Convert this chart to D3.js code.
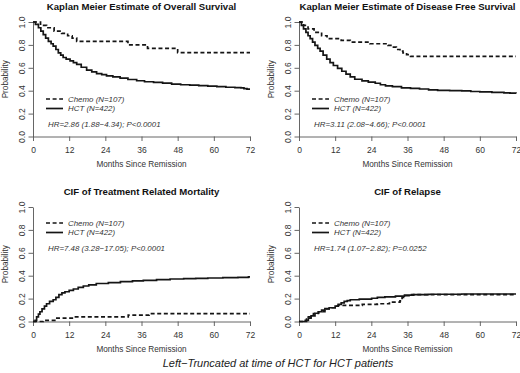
<!DOCTYPE html>
<html>
<head>
<meta charset="utf-8">
<script src="https://cdn.jsdelivr.net/npm/d3@7/dist/d3.min.js"></script>
<style>
  body { margin: 0; background: #fff; }
  text { font-family: "Liberation Sans", Arial, sans-serif; }
</style>
</head>
<body>
<div id="wrapper"></div>
<script>
// ---- data ----
const monthTicks = [0, 12, 24, 36, 48, 60, 72];
const probTicks = [0, 0.2, 0.4, 0.6, 0.8, 1.0];
const groupLabels = ["Chemo (N=107)", "HCT (N=422)"];
const panelTitles = [
  "Kaplan Meier Estimate of Overall Survival",
  "Kaplan Meier Estimate of Disease Free Survival",
  "CIF of Treatment Related Mortality",
  "CIF of Relapse",
];
const hazardTexts = [
  "HR=2.86 (1.88\u22124.34); P<0.0001",
  "HR=3.11 (2.08\u22124.66); P<0.0001",
  "HR=7.48 (3.28\u221217.05); P<0.0001",
  "HR=1.74 (1.07\u22122.82); P=0.0252",
];
const caption = "Left\u2212Truncated at time of HCT for HCT patients";

// [month, probability]
const osChemo = [[0,1],[2.5,0.97],[4.5,0.95],[7,0.92],[9.5,0.90],[11.5,0.88],[13,0.86],[14.5,0.83],
  [31.5,0.80],[38,0.77],[48,0.733],[72,0.733]];
const osHct = [[0,1],[0.8,0.98],[1.8,0.95],[2.6,0.92],[3.4,0.89],[4.2,0.86],[5.1,0.83],[6,0.81],
  [6.7,0.79],[7.6,0.76],[8.4,0.73],[9.2,0.71],[10,0.69],[11,0.675],[12.3,0.66],[13.4,0.645],
  [14.5,0.63],[16,0.605],[17.8,0.58],[19.5,0.565],[21.1,0.55],[22.8,0.54],[24.4,0.53],[26.5,0.52],
  [28.9,0.51],[31.5,0.498],[34.4,0.487],[37,0.478],[40,0.472],[43,0.466],[46,0.458],[49,0.452],
  [52,0.448],[55,0.445],[58,0.44],[61,0.435],[64,0.43],[67,0.427],[69,0.425],[70,0.418],[71,0.413],[72,0.413]];

const dfsChemo = [[0,1],[1.5,0.97],[3,0.94],[5,0.91],[7.5,0.88],[9.3,0.855],[14,0.84],[17,0.825],
  [23.5,0.81],[29.5,0.795],[31,0.78],[32.3,0.76],[33.5,0.745],[34.5,0.73],[35.7,0.715],[37,0.70],[72,0.70]];
const dfsHct = [[0,1],[0.8,0.97],[1.5,0.94],[2.3,0.91],[3,0.88],[3.7,0.855],[4.5,0.825],[5.3,0.795],
  [6.2,0.77],[7,0.745],[8,0.71],[9.2,0.675],[10.3,0.645],[11.4,0.62],[12.8,0.595],[14.2,0.57],
  [15.6,0.545],[17,0.52],[18.5,0.5],[20.9,0.485],[23,0.475],[25.3,0.465],[27,0.452],[28.7,0.442],
  [31,0.435],[34,0.425],[37,0.42],[40,0.415],[43,0.408],[46,0.403],[50,0.4],[54,0.398],[57,0.393],
  [60,0.39],[64,0.386],[68,0.381],[70,0.378],[72,0.375]];

const trmChemo = [[0,0],[3.4,0.01],[7.9,0.03],[13.4,0.04],[31.6,0.055],[38.5,0.068],[72,0.068]];
const trmHct = [[0,0],[0.7,0.01],[1.2,0.04],[1.8,0.065],[2.3,0.085],[3,0.11],[3.8,0.135],[4.5,0.155],
  [5.5,0.175],[6.7,0.19],[7.6,0.21],[8.6,0.235],[9.6,0.25],[10.6,0.26],[12,0.272],[13.4,0.284],
  [15,0.298],[16.7,0.31],[18.5,0.32],[21,0.332],[25,0.34],[29,0.348],[33,0.355],[36.6,0.36],
  [41,0.366],[45.5,0.371],[50,0.374],[54,0.377],[58,0.38],[63,0.383],[68,0.386],[71.5,0.39],[72,0.39]];

const relChemo = [[0,0],[1.4,0.01],[2.5,0.02],[3.1,0.04],[4,0.055],[4.8,0.07],[6.4,0.085],[8.6,0.11],
  [10.5,0.12],[12,0.135],[13,0.14],[21,0.15],[26,0.155],[30,0.17],[33.5,0.18],[34.2,0.21],
  [35.2,0.225],[36.5,0.235],[72,0.235]];
const relHct = [[0,0],[2,0],[2.5,0.01],[3.1,0.03],[4,0.05],[5.3,0.072],[6.5,0.085],[7.5,0.1],
  [8.6,0.113],[10,0.12],[12,0.135],[13,0.15],[14,0.163],[15,0.175],[16,0.183],[17,0.19],[20,0.195],
  [24.1,0.203],[26,0.21],[28.5,0.215],[32,0.222],[35,0.23],[38,0.235],[43,0.238],[54,0.24],[72,0.24]];

// ---- layout ----
const width = 520, height = 373;
const plotW = 217, plotH = 114.5;
const panels = [
  { left: 33,  top: 22,  chemo: osChemo,  hct: osHct,  legendTop: 77 },
  { left: 299, top: 22,  chemo: dfsChemo, hct: dfsHct, legendTop: 77 },
  { left: 33,  top: 207, chemo: trmChemo, hct: trmHct, legendTop: 16 },
  { left: 299, top: 207, chemo: relChemo, hct: relHct, legendTop: 16 },
];

const svg = d3.select("#wrapper")
  .append("svg")
    .attr("width", width)
    .attr("height", height);

const xScale = d3.scaleLinear().domain([0, 72]).range([0, plotW]);
const yScale = d3.scaleLinear().domain([0, 1]).range([plotH, 0]);

const lineGenerator = d3.line()
  .x(d => xScale(d[0]))
  .y(d => yScale(d[1]))
  .curve(d3.curveStepAfter);

const axisColor = "#555";
const textColor = "#333";
const curveColor = "#151515";

panels.forEach((p, i) => {
  const g = svg.append("g")
    .attr("transform", `translate(${p.left},${p.top})`);

  // title
  g.append("text")
    .attr("x", plotW / 2)
    .attr("y", -12.5)
    .attr("text-anchor", "middle")
    .attr("font-size", 9.6)
    .attr("font-weight", "bold")
    .attr("fill", "#111")
    .text(panelTitles[i]);

  // x axis
  const xAxis = g.append("g")
    .attr("transform", `translate(0,${plotH})`)
    .call(d3.axisBottom(xScale).tickValues(monthTicks).tickSize(4.5).tickSizeOuter(0));
  xAxis.selectAll("text")
    .attr("y", 10.8)
    .attr("dy", "0.71em")
    .attr("font-size", 8.5)
    .attr("fill", textColor);

  // y axis, labels parallel to the axis as R does
  const yAxis = g.append("g")
    .call(d3.axisLeft(yScale).tickValues(probTicks).tickFormat(d3.format(".1f")).tickSize(4.5).tickSizeOuter(0));
  yAxis.selectAll("text")
    .attr("transform", "rotate(-90)")
    .attr("x", 0)
    .attr("y", -7.8)
    .attr("dy", 0)
    .attr("text-anchor", "middle")
    .attr("font-size", 8.5)
    .attr("fill", textColor);

  g.selectAll(".domain, .tick line")
    .attr("stroke", axisColor)
    .attr("stroke-width", 0.9);

  // axis titles
  g.append("text")
    .attr("x", plotW / 2)
    .attr("y", plotH + 30)
    .attr("text-anchor", "middle")
    .attr("font-size", 8.2)
    .attr("fill", textColor)
    .text("Months Since Remission");

  g.append("text")
    .attr("transform", `translate(-25.5,${plotH / 2}) rotate(-90)`)
    .attr("text-anchor", "middle")
    .attr("font-size", 8.2)
    .attr("fill", textColor)
    .text("Probability");

  // curves
  g.append("path")
    .attr("d", lineGenerator(p.chemo))
    .attr("fill", "none")
    .attr("stroke", curveColor)
    .attr("stroke-width", 1.7)
    .attr("stroke-dasharray", "4,2.6");

  g.append("path")
    .attr("d", lineGenerator(p.hct))
    .attr("fill", "none")
    .attr("stroke", curveColor)
    .attr("stroke-width", 1.7);

  // legend
  const legend = g.append("g")
    .attr("transform", `translate(0,${p.legendTop})`);
  const dashes = ["4,2.6", null];
  groupLabels.forEach((label, j) => {
    const ly = j * 9.5;
    legend.append("line")
      .attr("x1", 13).attr("x2", 30)
      .attr("y1", ly).attr("y2", ly)
      .attr("stroke", curveColor)
      .attr("stroke-width", 1.7)
      .attr("stroke-dasharray", dashes[j]);
    legend.append("text")
      .attr("x", 35)
      .attr("y", ly + 2.8)
      .attr("font-size", 7.9)
      .attr("font-style", "italic")
      .attr("fill", textColor)
      .text(label);
  });
  legend.append("text")
    .attr("x", 15)
    .attr("y", 25 + 2.8)
    .attr("font-size", 7.9)
    .attr("font-style", "italic")
    .attr("fill", textColor)
    .text(hazardTexts[i]);
});

svg.append("text")
  .attr("x", 278)
  .attr("y", 367)
  .attr("text-anchor", "middle")
  .attr("font-size", 11)
  .attr("font-style", "italic")
  .attr("fill", "#222")
  .text(caption);
</script>
</body>
</html>
